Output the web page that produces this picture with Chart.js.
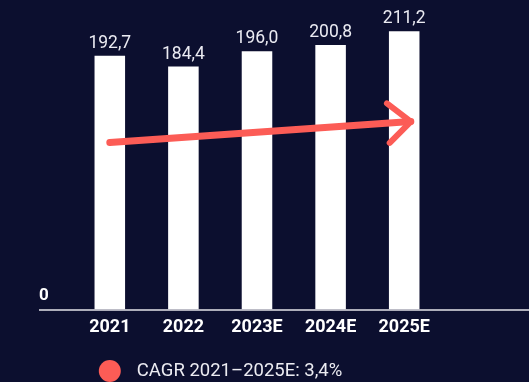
<!DOCTYPE html>
<html>
<head>
<meta charset="utf-8">
<script src="https://cdn.jsdelivr.net/npm/chart.js@4/dist/chart.umd.min.js"></script>
<style>
  html, body { margin: 0; padding: 0; background: #0c0f2f; }
  #wrap { width: 529px; height: 382px; position: relative; }
</style>
</head>
<body>
<div id="wrap"><canvas id="chart"></canvas></div>
<script>
const years = ['2021', '2022', '2023E', '2024E', '2025E'];
const values = [192.7, 184.4, 196.0, 200.8, 211.2];
const trendX = [0, 4.09];
const trendY = [126.7, 142.7];
const legendText = 'CAGR 2021–2025E: 3,4%';
const yMax = 235;

const RED = '#fc5c56';
const fmt = v => v.toFixed(1).replace('.', ',');

const decorations = {
    id: 'decorations',
    afterDatasetsDraw(chart) {
        const ctx = chart.ctx;
        const yScale = chart.scales.y;
        const xScale = chart.scales.x;

        // value labels above bars
        ctx.save();
        ctx.font = '17.5px Roboto';
        ctx.fillStyle = '#ebebf2';
        ctx.textAlign = 'center';
        ctx.textBaseline = 'alphabetic';
        chart.getDatasetMeta(0).data.forEach((bar, i) => {
            ctx.fillText(fmt(values[i]), bar.x, bar.y - 8);
        });

        // baseline + zero label
        const y0 = yScale.getPixelForValue(0);
        ctx.strokeStyle = '#e4e4ea';
        ctx.lineWidth = 1.5;
        ctx.beginPath();
        ctx.moveTo(39, y0 + 0.5);
        ctx.lineTo(chart.width, y0 + 0.5);
        ctx.stroke();
        ctx.font = 'bold 17px Roboto';
        ctx.fillStyle = '#ffffff';
        ctx.textAlign = 'left';
        ctx.fillText('0', 39, y0 - 9);

        // arrow head on trend line
        const pts = chart.getDatasetMeta(1).data;
        const p0 = pts[0], p1 = pts[pts.length - 1];
        const ang = Math.atan2(p1.y - p0.y, p1.x - p0.x);
        ctx.strokeStyle = RED;
        ctx.lineWidth = 6;
        ctx.lineCap = 'round';
        ctx.beginPath();
        [0.72, -0.72].forEach(d => {
            ctx.moveTo(p1.x, p1.y);
            ctx.lineTo(p1.x + 30 * Math.cos(ang + Math.PI + d), p1.y + 30 * Math.sin(ang + Math.PI + d));
        });
        ctx.stroke();

        // legend
        const lx = xScale.getPixelForValue(0);
        const ly = chart.height - 11;
        ctx.fillStyle = RED;
        ctx.beginPath();
        ctx.arc(lx, ly, 11, 0, Math.PI * 2);
        ctx.fill();
        ctx.font = '18.5px Roboto';
        ctx.fillStyle = '#ececf2';
        ctx.textBaseline = 'middle';
        ctx.fillText(legendText, lx + 27, ly);
        ctx.restore();
    }
};

new Chart(document.getElementById('chart'), {
    type: 'bar',
    data: {
        labels: years,
        datasets: [
            {
                label: 'Value',
                data: values,
                backgroundColor: '#ffffff',
                categoryPercentage: 1,
                barPercentage: 0.415,
                grouped: false,
                order: 1
            },
            {
                type: 'line',
                label: legendText,
                data: trendX.map((x, i) => ({ x: x, y: trendY[i] })),
                xAxisID: 'xt',
                borderColor: RED,
                borderWidth: 7,
                borderCapStyle: 'round',
                pointRadius: 0,
                fill: false,
                order: 0
            }
        ]
    },
    plugins: [decorations],
    options: {
        responsive: true,
        maintainAspectRatio: false,
        animation: false,
        layout: { padding: { left: 73, right: 88, top: 0, bottom: 37 } },
        plugins: {
            legend: { display: false },
            tooltip: { enabled: false }
        },
        scales: {
            x: {
                grid: { display: false, drawTicks: false },
                border: { display: false },
                ticks: {
                    color: '#ffffff',
                    padding: 7,
                    font: { family: 'Roboto', size: 18, weight: 'bold' }
                }
            },
            xt: {
                type: 'linear',
                display: false,
                offset: false,
                min: -0.5,
                max: 4.5
            },
            y: {
                display: false,
                min: 0,
                max: yMax
            }
        }
    }
});
</script>
</body>
</html>
